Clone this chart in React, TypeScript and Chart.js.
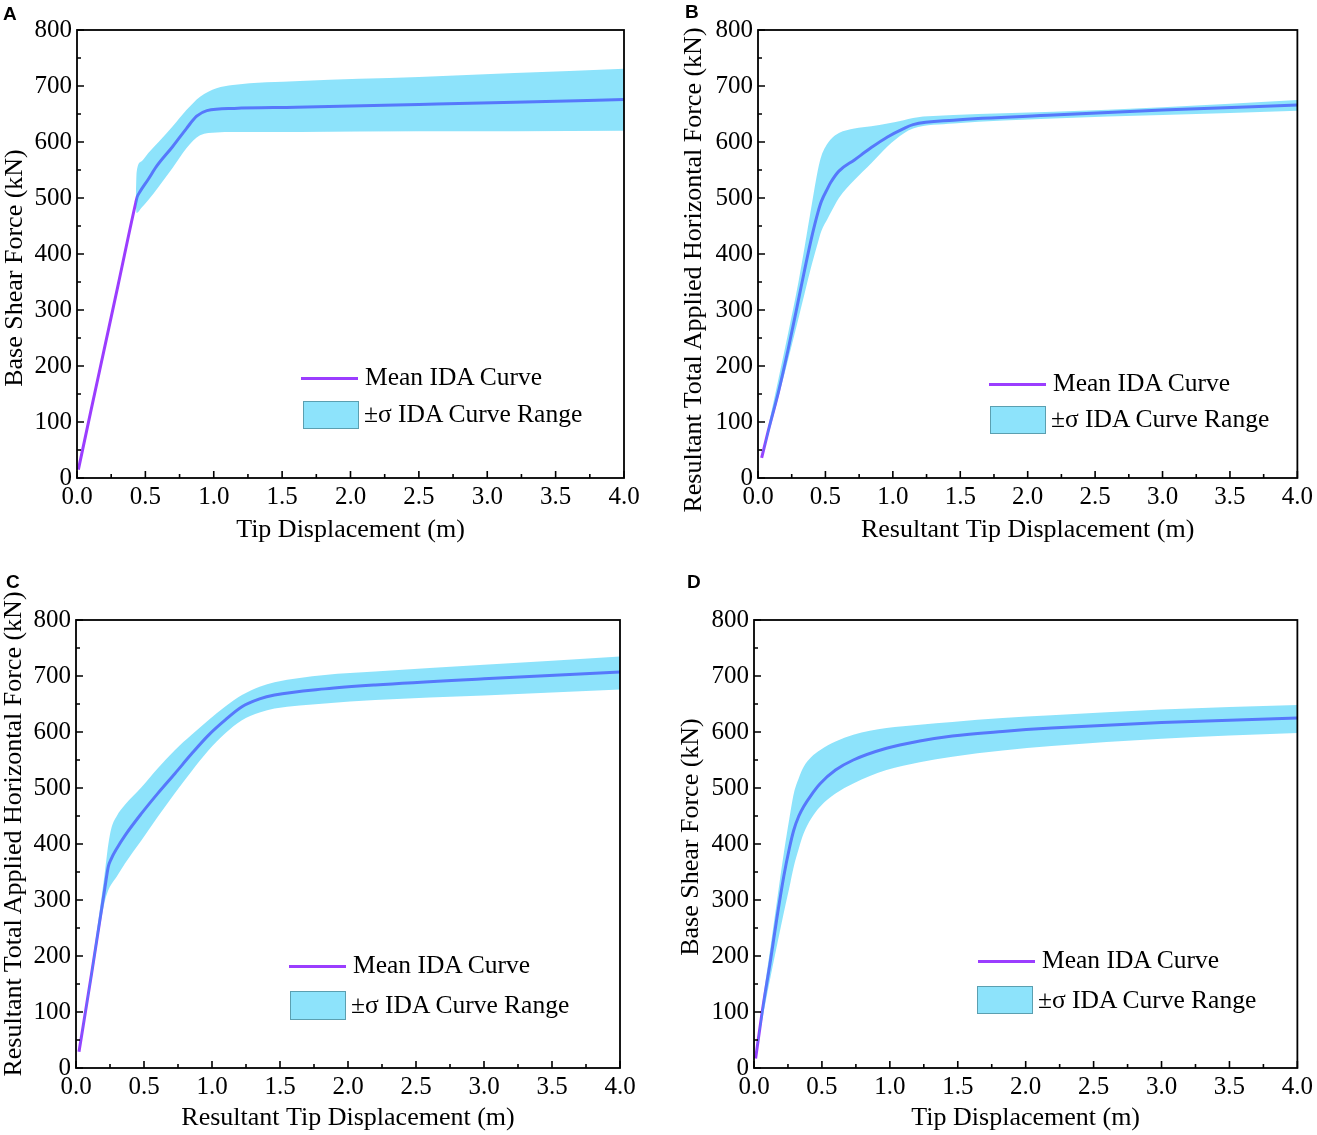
import React, { useEffect, useRef } from "react";
import { Chart, registerables } from "chart.js";

Chart.register(...registerables);

// ---- data (x in m, force in kN) ----
const aMeanX = [0.01, 0.1, 0.2, 0.3, 0.43, 0.44, 0.46, 0.52, 0.58, 0.7, 0.8, 0.875, 0.95, 1.15, 1.6, 2.5, 3.2, 4.0];
const aMean = [15, 118, 231, 344, 492, 502, 511, 533, 556, 592, 624, 646, 656, 660, 662, 667, 671, 676];
const aBandX = [0.43, 0.436, 0.47, 0.52, 0.6, 0.7, 0.8, 0.9, 1.02, 1.14, 1.63, 2.5, 3.2, 4.0];
const aUpper = [500, 546, 565, 580, 601, 628, 657, 681, 696, 702, 709, 716, 723, 731];
const aLower = [490, 473, 482, 496, 521, 554, 589, 612, 617, 618, 618, 619, 619, 620];

const bX = [0.027, 0.076, 0.15, 0.223, 0.3, 0.346, 0.4, 0.444, 0.47, 0.518, 0.54, 0.6, 0.715, 0.84, 0.96, 1.08, 1.15, 1.45, 2.19, 3.0, 4.0];
const bMean = [36, 84, 152, 229, 318, 372, 432, 474, 494, 518, 528, 548, 568, 590, 609, 624, 631, 639, 648, 657, 666];
const bUpper = [36, 92, 175, 258, 350, 413, 490, 550, 575, 598, 605, 616, 624, 628, 633, 639, 643, 648, 654, 662, 675];
const bLower = [36, 76, 143, 211, 285, 330, 382, 420, 441, 464, 474, 500, 532, 562, 592, 615, 624, 633, 642, 648, 656];

const cX = [0.022, 0.115, 0.21, 0.238, 0.26, 0.3, 0.36, 0.483, 0.6, 0.728, 0.85, 0.973, 1.1, 1.22, 1.35, 1.46, 1.83, 2.2, 3.0, 4.0];
const cMean = [29, 169, 318, 360, 374, 392, 415, 455, 490, 526, 561, 594, 622, 645, 659, 666, 677, 684, 695, 707];
const cUpper = [30, 180, 345, 400, 428, 450, 470, 502, 535, 568, 595, 621, 646, 666, 681, 689, 702, 708, 720, 735];
const cLower = [28, 158, 296, 318, 328, 342, 365, 407, 448, 491, 530, 567, 598, 621, 635, 642, 651, 657, 665, 676];

const dX = [0.012, 0.06, 0.122, 0.17, 0.219, 0.26, 0.293, 0.33, 0.366, 0.42, 0.488, 0.6, 0.731, 0.975, 1.22, 1.46, 1.83, 2.19, 3.0, 4.0];
const dMean = [17, 100, 193, 270, 342, 392, 425, 450, 467, 487, 508, 532, 550, 571, 584, 593, 601, 607, 617, 625];
const dUpper = [17, 112, 217, 300, 383, 445, 490, 518, 538, 555, 568, 583, 595, 607, 613, 618, 625, 630, 640, 648];
const dLower = [17, 85, 163, 220, 277, 322, 360, 392, 419, 445, 467, 490, 508, 532, 546, 556, 567, 575, 588, 598];

const meanLabel = "Mean IDA Curve";
const bandLabel = "±σ IDA Curve Range";

const SERIF = "'Liberation Serif', 'Times New Roman', serif";
const PURPLE = "#9b3dff";
const BAND = "rgba(2, 193, 246, 0.45)";

Chart.defaults.font.family = SERIF;
Chart.defaults.color = "#000";

const pts = (xs: number[], ys: number[]) => xs.map((x, i) => ({ x, y: ys[i] }));

const frame = {
  id: "frame",
  afterDatasetsDraw(chart: any) {
    const { ctx, chartArea: a, scales } = chart;
    const sx = scales.x;
    const sy = scales.y;
    ctx.save();
    ctx.strokeStyle = "#000";
    ctx.lineWidth = 1.8;
    ctx.strokeRect(a.left, a.top, a.right - a.left, a.bottom - a.top);
    ctx.lineWidth = 1.6;
    const xt = sx.ticks.map((t: any) => t.value);
    const yt = sy.ticks.map((t: any) => t.value);
    ctx.beginPath();
    xt.forEach((v: number, i: number) => {
      const p = sx.getPixelForValue(v);
      ctx.moveTo(p, a.bottom);
      ctx.lineTo(p, a.bottom - 7);
      if (i < xt.length - 1) {
        const m = sx.getPixelForValue((v + xt[i + 1]) / 2);
        ctx.moveTo(m, a.bottom);
        ctx.lineTo(m, a.bottom - 4);
      }
    });
    yt.forEach((v: number, i: number) => {
      const p = sy.getPixelForValue(v);
      ctx.moveTo(a.left, p);
      ctx.lineTo(a.left + 7, p);
      if (i < yt.length - 1) {
        const m = sy.getPixelForValue((v + yt[i + 1]) / 2);
        ctx.moveTo(a.left, m);
        ctx.lineTo(a.left + 4, m);
      }
    });
    ctx.stroke();
    ctx.restore();
  },
};

type PanelProps = {
  left: number;
  top: number;
  w: number;
  h: number;
  pad: { top: number; right: number };
  yw: number;
  xh: number;
  xTitle: string;
  xTitlePad: number;
  meanX: number[];
  mean: number[];
  bandX: number[];
  upper: number[];
  lower: number[];
};

function Panel(p: PanelProps) {
  const ref = useRef<HTMLCanvasElement>(null);
  useEffect(() => {
    const ctx = ref.current?.getContext("2d");
    if (!ctx) return;
    const chart = new Chart(ctx, {
      type: "line",
      data: {
        datasets: [
          {
            label: "upper",
            data: pts(p.bandX, p.upper),
            borderWidth: 0,
            pointRadius: 0,
            backgroundColor: BAND,
            fill: "+1",
            cubicInterpolationMode: "monotone",
          },
          {
            label: "lower",
            data: pts(p.bandX, p.lower),
            borderWidth: 0,
            pointRadius: 0,
            fill: false,
            cubicInterpolationMode: "monotone",
          },
          {
            label: meanLabel,
            data: pts(p.meanX, p.mean),
            borderColor: PURPLE,
            borderWidth: 3,
            pointRadius: 0,
            fill: false,
            cubicInterpolationMode: "monotone",
          },
        ],
      },
      options: {
        animation: false,
        responsive: true,
        maintainAspectRatio: false,
        layout: { padding: { left: 0, top: p.pad.top, right: p.pad.right, bottom: 0 } },
        plugins: { legend: { display: false }, tooltip: { enabled: false } },
        scales: {
          x: {
            type: "linear",
            min: 0,
            max: 4,
            ticks: {
              stepSize: 0.5,
              color: "#000",
              font: { family: SERIF, size: 25 },
              padding: 4,
              maxRotation: 0,
              autoSkip: false,
              callback: (v: any) => Number(v).toFixed(1),
            },
            grid: { display: false, drawTicks: false },
            border: { display: false },
            title: {
              display: true,
              text: p.xTitle,
              color: "#000",
              font: { family: SERIF, size: 26, lineHeight: 1 },
              padding: { top: 0, bottom: p.xTitlePad },
            },
            afterFit: (s: any) => {
              s.height = p.xh;
            },
          },
          y: {
            type: "linear",
            min: 0,
            max: 800,
            ticks: { stepSize: 100, color: "#000", font: { family: SERIF, size: 25 }, padding: 5 },
            grid: { display: false, drawTicks: false },
            border: { display: false },
            afterFit: (s: any) => {
              s.width = p.yw;
            },
          },
        },
      } as any,
      plugins: [frame],
    });
    return () => chart.destroy();
  }, []);
  return (
    <div style={{ position: "absolute", left: p.left, top: p.top, width: p.w, height: p.h }}>
      <canvas ref={ref} />
    </div>
  );
}

function YTitle({ cx, cy, text }: { cx: number; cy: number; text: string }) {
  return (
    <div
      style={{
        position: "absolute",
        left: cx,
        top: cy,
        transform: "translate(-50%, -50%) rotate(-90deg)",
        fontFamily: SERIF,
        fontSize: 26,
        lineHeight: "26px",
        whiteSpace: "nowrap",
        color: "#000",
      }}
    >
      {text}
    </div>
  );
}

function Legend({ lx, ly, tx, bx, by, bw, bh, btx, bty }: any) {
  const text: React.CSSProperties = {
    position: "absolute",
    fontFamily: SERIF,
    fontSize: 25.5,
    lineHeight: "30px",
    color: "#000",
    whiteSpace: "nowrap",
  };
  return (
    <>
      <div style={{ position: "absolute", left: lx, top: ly - 1.5, width: 57, height: 3, background: PURPLE }} />
      <div style={{ ...text, left: tx, top: ly - 16 }}>{meanLabel}</div>
      <div
        style={{
          position: "absolute",
          left: bx,
          top: by,
          width: bw,
          height: bh,
          boxSizing: "border-box",
          background: "#8de3fb",
          border: "1.5px solid #5b9fb0",
        }}
      />
      <div style={{ ...text, left: btx, top: bty - 16 }}>{bandLabel}</div>
    </>
  );
}

function Letter({ x, y, t }: { x: number; y: number; t: string }) {
  return (
    <div
      style={{
        position: "absolute",
        left: x,
        top: y,
        fontFamily: "Arial, 'Liberation Sans', sans-serif",
        fontWeight: "bold",
        fontSize: 19,
        lineHeight: "19px",
        color: "#000",
      }}
    >
      {t}
    </div>
  );
}

export default function App() {
  const yA = "Base Shear Force (kN)";
  const yB = "Resultant Total Applied Horizontal Force (kN)";
  return (
    <div style={{ position: "absolute", left: 0, top: 0, width: 1317, height: 1135, background: "#fff" }}>
      <Panel
        left={0} top={0} w={660} h={565} pad={{ top: 30, right: 36 }} yw={77} xh={87}
        xTitle="Tip Displacement (m)" xTitlePad={22}
        meanX={aMeanX} mean={aMean} bandX={aBandX} upper={aUpper} lower={aLower}
      />
      <Panel
        left={660} top={0} w={657} h={565} pad={{ top: 30, right: 16 }} yw={98} xh={87}
        xTitle="Resultant Tip Displacement (m)" xTitlePad={22}
        meanX={bX} mean={bMean} bandX={bX} upper={bUpper} lower={bLower}
      />
      <Panel
        left={0} top={565} w={660} h={570} pad={{ top: 55, right: 40 }} yw={76} xh={67}
        xTitle="Resultant Tip Displacement (m)" xTitlePad={4}
        meanX={cX} mean={cMean} bandX={cX} upper={cUpper} lower={cLower}
      />
      <Panel
        left={660} top={565} w={657} h={570} pad={{ top: 55, right: 16 }} yw={94} xh={67}
        xTitle="Tip Displacement (m)" xTitlePad={4}
        meanX={dX} mean={dMean} bandX={dX} upper={dUpper} lower={dLower}
      />
      <YTitle cx={14} cy={268} text={yA} />
      <YTitle cx={693} cy={270} text={yB} />
      <YTitle cx={13} cy={834} text={yB} />
      <YTitle cx={690} cy={837} text={yA} />
      <Legend lx={301} ly={378} tx={365} bx={303} by={401} bw={56} bh={28} btx={364} bty={415} />
      <Legend lx={989} ly={384} tx={1053} bx={990} by={406} bw={56} bh={28} btx={1051} bty={420} />
      <Legend lx={289} ly={966} tx={353} bx={290} by={991} bw={56} bh={29} btx={351} bty={1006} />
      <Legend lx={978} ly={961} tx={1042} bx={977} by={986} bw={56} bh={28} btx={1038} bty={1001} />
      <Letter x={3} y={4} t="A" />
      <Letter x={685} y={2} t="B" />
      <Letter x={6} y={572} t="C" />
      <Letter x={687} y={572} t="D" />
    </div>
  );
}
